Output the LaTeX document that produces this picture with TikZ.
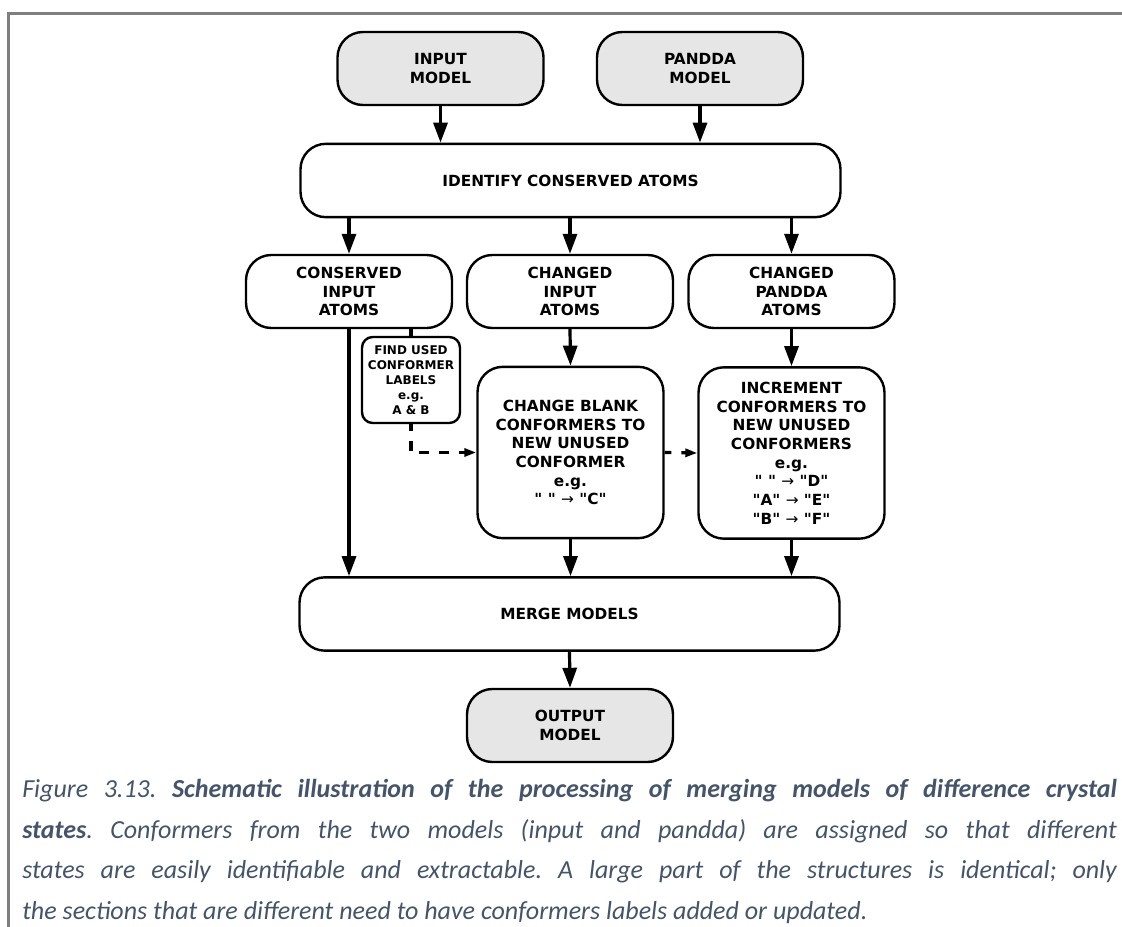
\documentclass[tikz,border=0pt]{standalone}
\usepackage{fontspec}
\setmainfont{Carlito}
\newfontfamily\boxfont{DejaVu Sans}
\usetikzlibrary{arrows.meta}

\definecolor{modelgray}{HTML}{E6E6E6}
\definecolor{framegray}{HTML}{7F7F7F}
\definecolor{captionblue}{HTML}{44546A}

\newcommand{\rarr}{{\mdseries →}}

\tikzset{
  stepbox/.style  = {draw, rounded corners = 19pt, line width = 1.8pt, align = center, inner sep = 0pt,
                     font = \boxfont\bfseries\fontsize{11.5}{14}\selectfont},
  modelbox/.style = {stepbox, fill = modelgray, minimum width = 154.5pt, minimum height = 54.75pt},
  atombox/.style  = {stepbox, minimum width = 154.5pt, minimum height = 54.75pt},
  widebox/.style  = {stepbox, minimum width = 405pt, minimum height = 55pt},
  tallbox/.style  = {stepbox, minimum width = 139.5pt, minimum height = 128.5pt},
  notebox/.style  = {stepbox, rounded corners = 8pt, minimum width = 73.5pt, minimum height = 64.5pt,
                     font = \boxfont\bfseries\fontsize{9}{11.25}\selectfont},
  flow/.style     = {line width = 2.4pt, -{Triangle[length = 15pt, width = 10.5pt]}},
  dashflow/.style = {line width = 2.4pt, dash pattern = on 7.5pt off 7.5pt, dash phase = 2.5pt,
                     -{Triangle[length = 9pt, width = 6pt]}}
}

\begin{document}
\begin{tikzpicture}[x = 0.75pt, y = -0.75pt]
  \useasboundingbox (0, 0) rectangle (1122, 927);
  \draw[framegray, line width = 2.25pt] (8, 927) -- (8, 13.5) -- (1122, 13.5);

  \node[modelbox] at (440.5,  68.5) (inmodel)     {INPUT\\MODEL};
  \node[modelbox] at (700  ,  68.5) (pandda)      {PANDDA\\MODEL};
  \node[widebox]  at (570.5, 180.5) (identify)    {IDENTIFY CONSERVED ATOMS};
  \node[atombox]  at (349  , 291.5) (conserved)   {CONSERVED\\INPUT\\ATOMS};
  \node[atombox]  at (570  , 291.5) (chinput)     {CHANGED\\INPUT\\ATOMS};
  \node[atombox]  at (791.5, 291.5) (chpandda)    {CHANGED\\PANDDA\\ATOMS};
  \node[notebox]  at (411  , 380  ) (findused)    {FIND USED\\CONFORMER\\LABELS\\e.g.\\A \& B};
  \node[tallbox]  at (570.5, 452.5) (changeblank) {CHANGE BLANK\\CONFORMERS TO\\NEW UNUSED\\CONFORMER\\e.g.\\" " \rarr{} "C"};
  \node[tallbox]  at (791.5, 453  ) (increment)   {INCREMENT\\CONFORMERS TO\\NEW UNUSED\\CONFORMERS\\e.g.\\" " \rarr{} "D"\\"A" \rarr{} "E"\\"B" \rarr{} "F"};
  \node[widebox]  at (569.5, 614  ) (merge)       {MERGE MODELS};
  \node[modelbox] at (570  , 725.5) (output)      {OUTPUT\\MODEL};

  \draw[flow] (inmodel.south)  -- (inmodel.south |- identify.north);
  \draw[flow] (pandda.south)   -- (pandda.south |- identify.north);
  \draw[flow] (identify.south -| conserved.north) -- (conserved.north);
  \draw[flow] (identify.south -| chinput.north)   -- (chinput.north);
  \draw[flow] (identify.south -| chpandda.north)  -- (chpandda.north);
  \draw[flow] (chinput.south)  -- (changeblank.north);
  \draw[flow] (chpandda.south) -- (increment.north);
  \draw[flow] (conserved.south) -- (conserved.south |- merge.north);
  \draw[flow] (changeblank.south) -- (changeblank.south |- merge.north);
  \draw[flow] (increment.south)   -- (increment.south |- merge.north);
  \draw[flow] (merge.south)    -- (output.north);

  \draw[line width = 2.4pt] (conserved.south -| findused.north) -- (findused.north);
  \draw[dashflow] (findused.south) -- (findused.south |- changeblank.west) -- (changeblank.west);
  \draw[dashflow] (changeblank.east) -- (increment.west);

  \node[anchor = north west, inner sep = 0pt, text width = 821pt, align = justify, text = captionblue,
        font = \itshape\fontsize{19.5}{30.4}\selectfont\frenchspacing] at (22, 779) (caption)
    {Figure 3.13. \textbf{Schematic illustration of the processing of merging models of difference crystal\linebreak
     states}. Conformers from the two models (input and pandda) are assigned so that different\linebreak
     states are easily identifiable and extractable. A large part of the structures is identical; only\linebreak
     the sections that are different need to have conformers labels added or updated.};
\end{tikzpicture}
\end{document}
